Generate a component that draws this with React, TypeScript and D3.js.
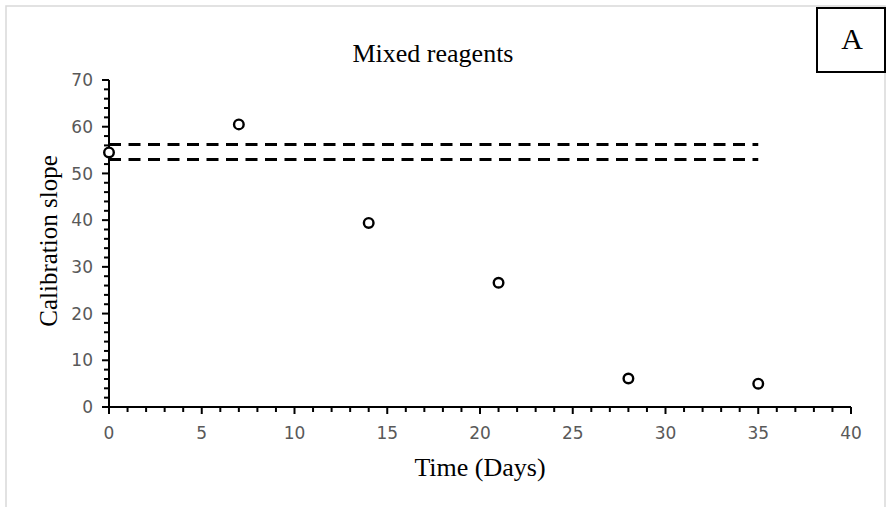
import React from "react";
import * as d3 from "d3";

const days = [0, 7, 14, 21, 28, 35];
const slopes = [54.5, 60.5, 39.4, 26.6, 6.1, 5.0];
const limitLines = [56.2, 53.0];
const limitSpan = [0, 35];
const xTicks = [0, 5, 10, 15, 20, 25, 30, 35, 40];
const yTicks = [0, 10, 20, 30, 40, 50, 60, 70];
const title = "Mixed reagents";
const xLabel = "Time (Days)";
const yLabel = "Calibration slope";
const panelLabel = "A";

export default function App() {
  const W = 888, H = 507;
  const x = d3.scaleLinear().domain([0, 40]).range([109, 851]);
  const y = d3.scaleLinear().domain([0, 70]).range([407, 80]);
  const xMinor = d3.range(0, 41, 1).filter((v) => v % 5 !== 0);
  const yMinor = d3.range(0, 71, 2).filter((v) => v % 10 !== 0);
  const serif = "'Liberation Serif', 'Times New Roman', serif";
  const sans = "'DejaVu Sans', Verdana, sans-serif";
  const line = d3.line<number>().x((d) => d[0]).y((d) => d[1]);
  return (
    <svg width={W} height={H} style={{ position: "absolute", left: 0, top: 0, background: "#fff" }}>
      <rect x={6} y={6} width={879} height={510} fill="#fff" stroke="#d9d9d9" strokeWidth={1.5} />
      <text x={433} y={62} textAnchor="middle" fontFamily={serif} fontSize={26} fill="#000">{title}</text>
      <rect x={817} y={8} width={68} height={64} fill="#fff" stroke="#000" strokeWidth={2} />
      <text x={852} y={49} textAnchor="middle" fontFamily={serif} fontSize={30} fill="#000">{panelLabel}</text>
      {limitLines.map((v, i) => (
        <path key={"l" + i}
          d={line([[x(limitSpan[0]), y(v)], [x(limitSpan[1]), y(v)]] as any) || ""}
          stroke="#000" strokeWidth={3} strokeDasharray="12,7.5" fill="none" />
      ))}
      <line x1={x(0)} x2={x(40)} y1={y(0)} y2={y(0)} stroke="#000" strokeWidth={2} />
      <line x1={x(0)} x2={x(0)} y1={y(0)} y2={y(70)} stroke="#000" strokeWidth={2} />
      {xTicks.map((t) => (
        <g key={"xt" + t}>
          <line x1={x(t)} x2={x(t)} y1={y(0)} y2={y(0) + 7} stroke="#000" strokeWidth={2} />
          <text x={x(t)} y={439} textAnchor="middle" fontFamily={sans} fontSize={17} fill="#595959">{t}</text>
        </g>
      ))}
      {xMinor.map((t) => (
        <line key={"xm" + t} x1={x(t)} x2={x(t)} y1={y(0)} y2={y(0) + 5} stroke="#000" strokeWidth={2} />
      ))}
      {yTicks.map((t) => (
        <g key={"yt" + t}>
          <line x1={x(0) - 7} x2={x(0)} y1={y(t)} y2={y(t)} stroke="#000" strokeWidth={2} />
          <text x={93} y={y(t)} dy="0.36em" textAnchor="end" fontFamily={sans} fontSize={17} fill="#595959">{t}</text>
        </g>
      ))}
      {yMinor.map((t) => (
        <line key={"ym" + t} x1={x(0) - 5} x2={x(0)} y1={y(t)} y2={y(t)} stroke="#000" strokeWidth={2} />
      ))}
      {days.map((d, i) => (
        <circle key={"p" + i} cx={x(d)} cy={y(slopes[i])} r={4.8} fill="#fff" stroke="#000" strokeWidth={2.4} />
      ))}
      <text x={480} y={476} textAnchor="middle" fontFamily={serif} fontSize={26} fill="#000">{xLabel}</text>
      <text transform={`translate(57,241) rotate(-90)`} textAnchor="middle" fontFamily={serif} fontSize={25} fill="#000">{yLabel}</text>
    </svg>
  );
}
